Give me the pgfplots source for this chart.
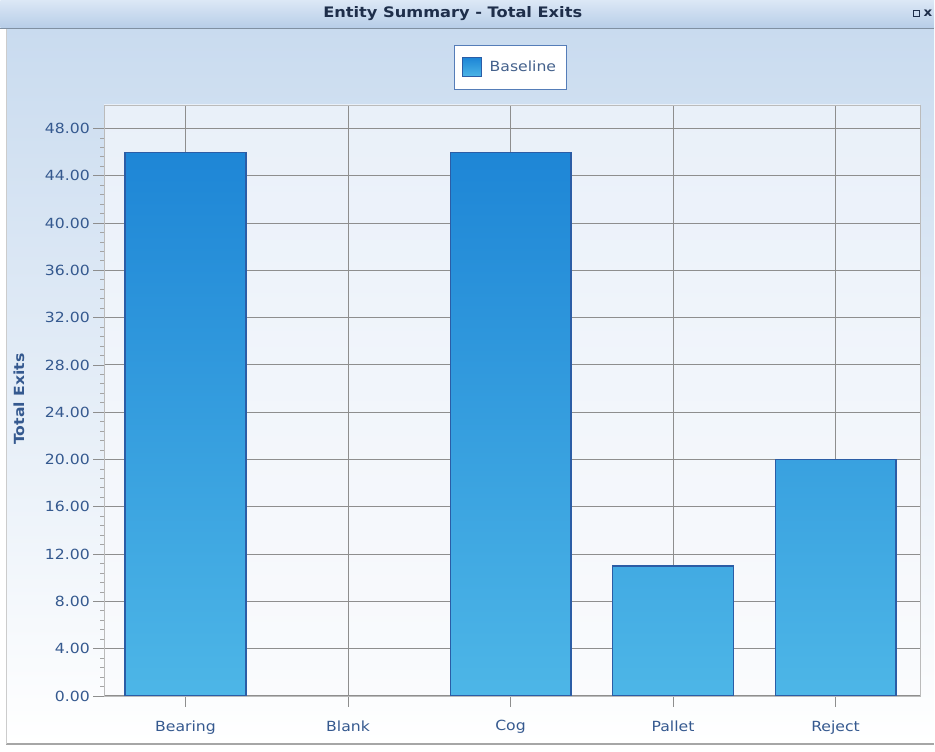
\documentclass[border=0pt]{standalone}
\usepackage{fontspec}
\setmainfont{DejaVu Sans}[FakeStretch=1.12]
\usepackage{pgfplots}
\pgfplotsset{compat=1.18}
\usetikzlibrary{backgrounds,calc}
\definecolor{txt}{HTML}{35598F}
\definecolor{titletxt}{HTML}{1E2E4A}
\definecolor{bartop}{HTML}{1E86D6}
\definecolor{barbot}{HTML}{4DB6E7}
\definecolor{baredge}{HTML}{2B5DA6}
\definecolor{gridc}{HTML}{8E8E8E}
\definecolor{paneltop}{HTML}{C9DBEF}
\definecolor{panelbot}{HTML}{FFFFFF}
\definecolor{headtop}{HTML}{DCE8F6}
\definecolor{headbot}{HTML}{B7CDE8}
\definecolor{plottop}{HTML}{E9F0F9}
\definecolor{plotbot}{HTML}{FAFBFD}

\begin{document}
\begin{tikzpicture}[x=1pt,y=1pt]
\begin{axis}[
  name=ax,
  scale only axis,
  width=817pt, height=592pt,
  xmin=-0.5, xmax=4.52,
  ymin=0, ymax=50,
  ybar, bar width=121pt,
  axis background/.style={top color=plottop, bottom color=plotbot},
  axis line style={gridc!60},
  xtick={0,1,2,3,4},
  xticklabels={Bearing,Blank,Cog,Pallet,Reject},
  ytick={0,4,...,48},
  minor y tick num=4,
  tick align=outside,
  major tick length=11pt,
  minor tick length=4pt,
  xtick pos=bottom, ytick pos=left,
  tick style={gridc, line width=0.8pt},
  minor tick style={gridc!80, line width=0.8pt},
  xmajorgrids, ymajorgrids,
  major grid style={gridc, line width=1pt},
  /pgf/number format/assume math mode=true,
  yticklabel style={/pgf/number format/.cd, fixed, fixed zerofill, precision=2},
  ticklabel style={font=\fontsize{14}{16}\selectfont, text=txt},
  xticklabel style={yshift=-10pt},
  ylabel={Total Exits},
  ylabel style={at={(axis description cs:-0.1047,0.502)}, anchor=center,
    font=\fontsize{14}{16}\selectfont\bfseries, text=txt},
  legend style={at={(0.4976,1.0633)}, anchor=center,
    draw=baredge!80, fill=white, line width=1pt,
    font=\fontsize{14}{16}\selectfont, text=txt!80!gray,
    inner xsep=8pt, inner ysep=12pt},
  legend image code/.code={\shade[top color=bartop, bottom color=barbot, draw=baredge, line width=1pt] (0pt,-9.5pt) rectangle (19pt,9.5pt); \path[draw=none, fill=none] (0pt,0pt) -- (25pt,0pt);},
]
\addplot[draw=baredge, line width=1.2pt, top color=bartop, bottom color=barbot]
  coordinates {(0,46) (2,46) (3,11) (4,20)};
\addlegendentry{Baseline}
\end{axis}
\begin{scope}[on background layer, shift={($(ax.south west)+(-104,-56)$)}]
\path (0,0) rectangle (935,753);
\fill[white] (0,0) rectangle (935,753);
\shade[top color=paneltop, bottom color=panelbot] (6,8) rectangle (935,725);
\draw[gray!70, line width=2pt] (6,8) -- (935,8);
\draw[gray!40, line width=1pt] (6,8) -- (6,725);
\shade[top color=headtop, bottom color=headbot] (0,725) rectangle (935,753);
\draw[headbot!70!black, line width=0.8pt] (0,725) -- (935,725);
\end{scope}
\begin{scope}[shift={($(ax.south west)+(-104,-56)$)}]
\node[font=\fontsize{14.5}{16}\selectfont\bfseries, text=titletxt] at (453,739) {Entity Summary - Total Exits};
\draw[titletxt, line width=1pt] (914,736) rectangle (920,742);
\node[font=\fontsize{12}{15}\selectfont\bfseries, text=titletxt, inner sep=0pt] at (929,739.5) {x};
\end{scope}
\end{tikzpicture}
\end{document}
